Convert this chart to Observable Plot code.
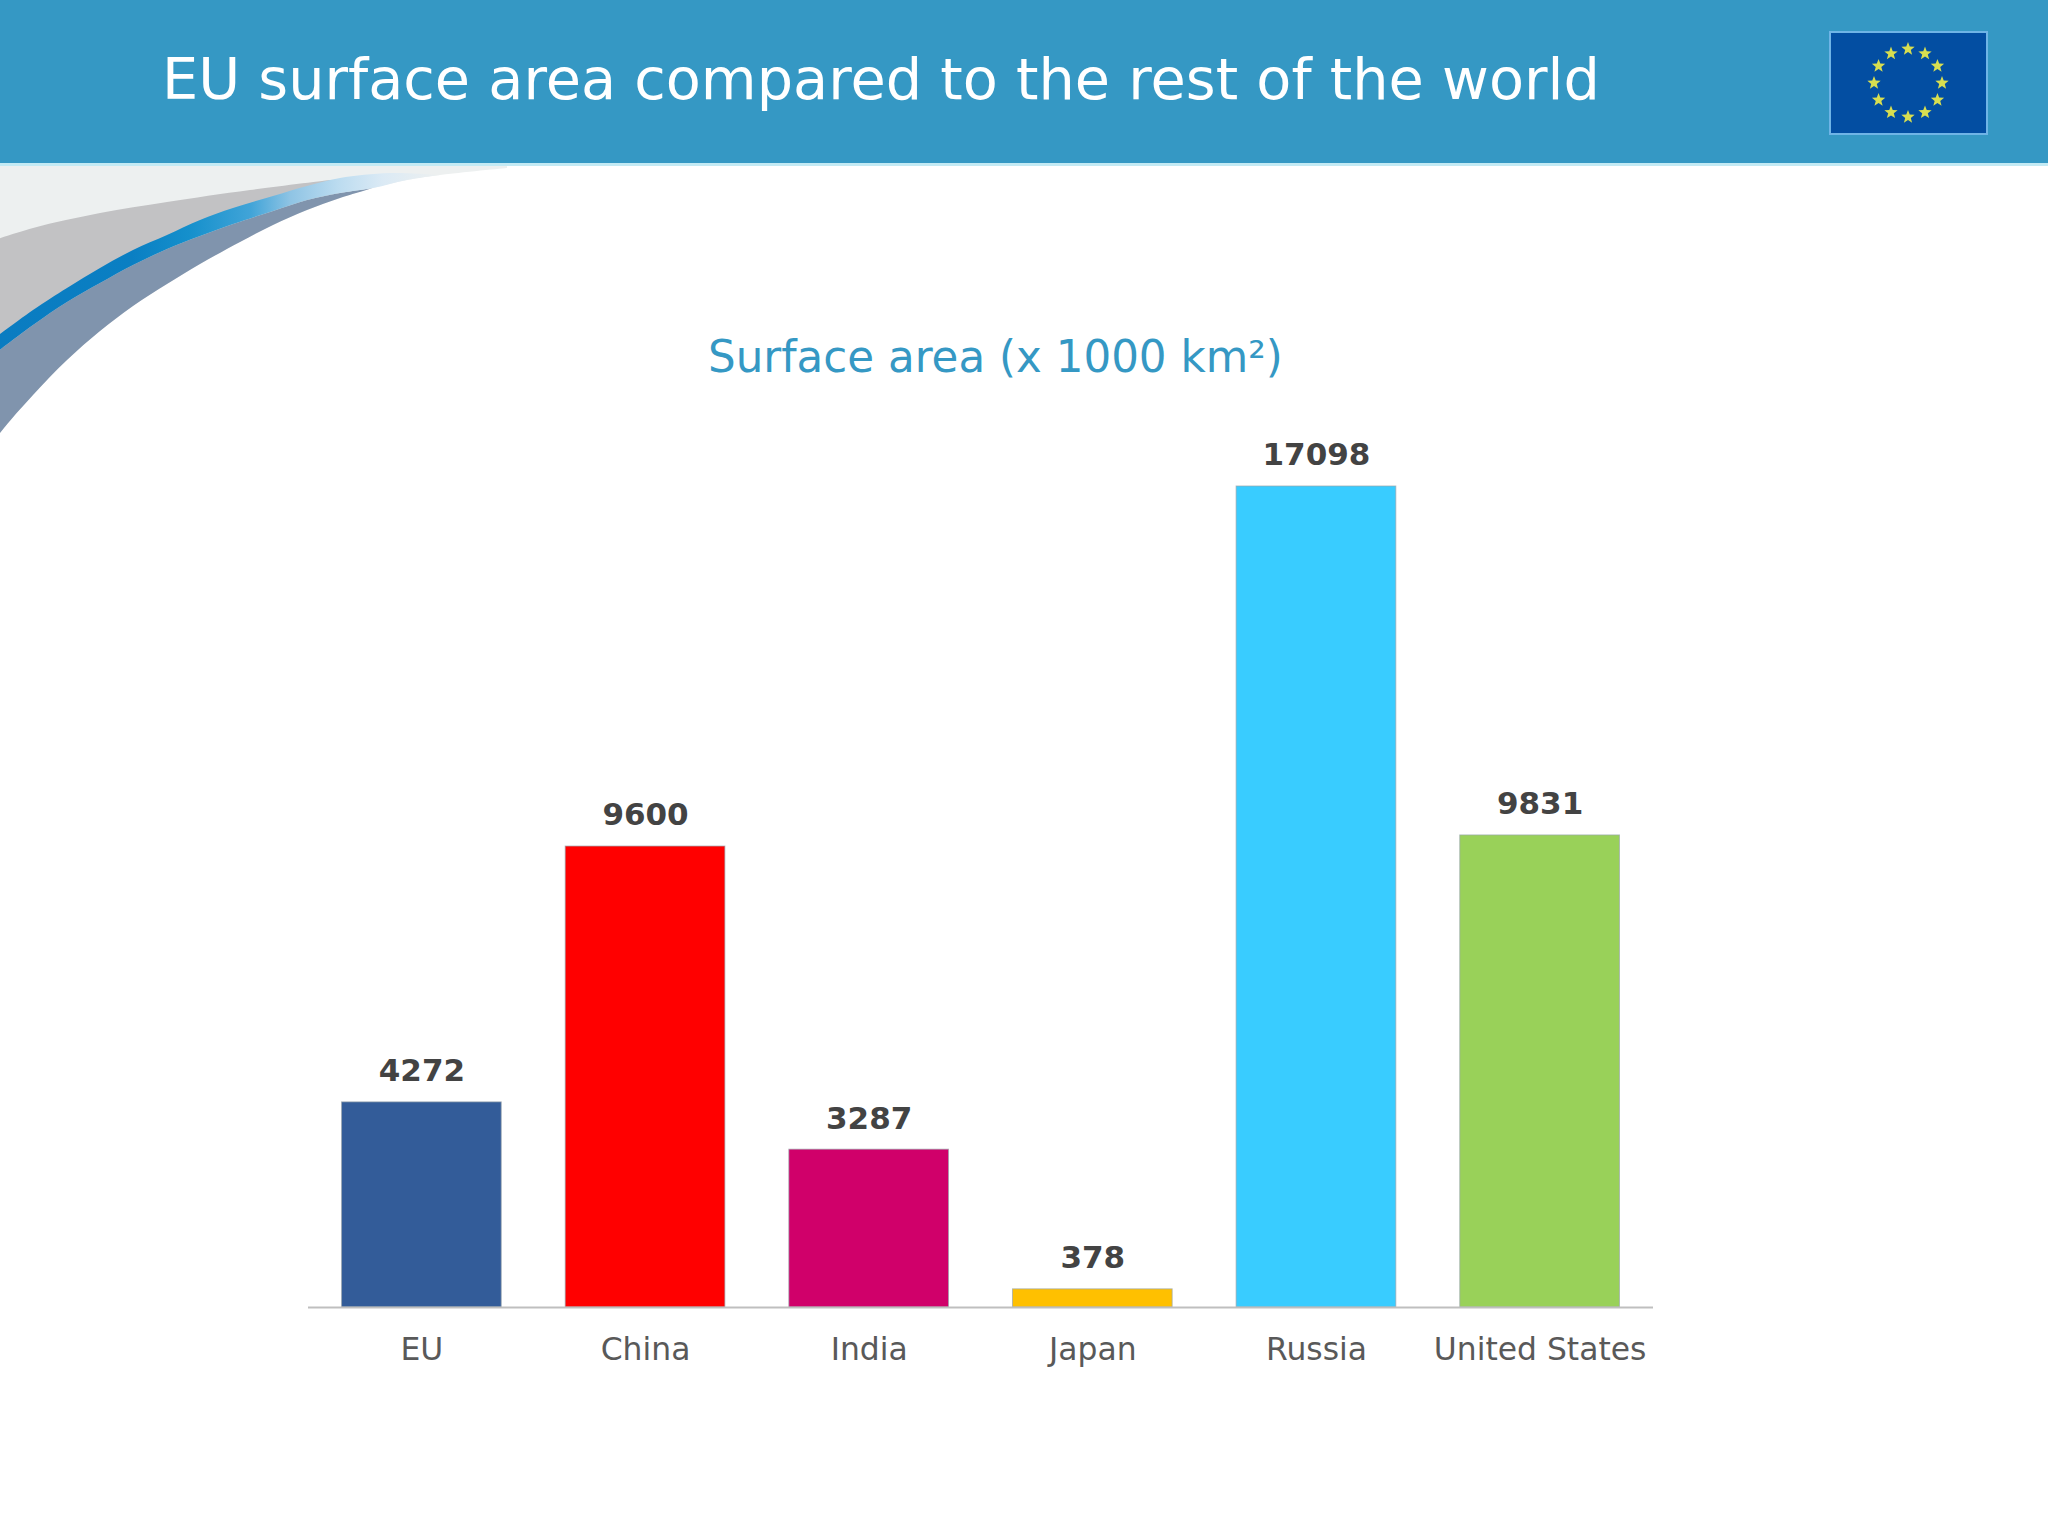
<!DOCTYPE html>
<html>
<head>
<meta charset="utf-8">
<script src="https://cdn.jsdelivr.net/npm/d3@7"></script>
<script src="https://cdn.jsdelivr.net/npm/@observablehq/plot@0.6"></script>
<style>
html,body{margin:0;padding:0;background:#fff;}
#page{position:relative;width:2048px;height:1536px;overflow:hidden;font-family:"DejaVu Sans",sans-serif;background:#fff;}
#header{position:absolute;left:0;top:0;width:2048px;height:163px;background:#3598c4;border-bottom:3px solid #c3eaf4;}
#title{position:absolute;left:162px;top:44px;color:#fff;font-size:57.3px;line-height:72px;white-space:nowrap;}
#sub{position:absolute;left:708px;top:325px;white-space:nowrap;color:#3598c4;font-size:43.6px;line-height:64px;}
#deco,#flag{position:absolute;left:0;top:0;}
#chart{position:absolute;left:0;top:440px;}
</style>
</head>
<body>
<div id="page">
<svg id="deco" width="2048" height="460"></svg>
<div id="header"><div id="title">EU surface area compared to the rest of the world</div></div>
<svg id="flag" width="2048" height="163"></svg>
<div id="sub">Surface area (x 1000 km²)</div>
<div id="chart"></div>
</div>
<script>
const categories = ["EU","China","India","Japan","Russia","United States"];
const areas = [4272,9600,3287,378,17098,9831];
const barColors = ["#335c99","#ff0000","#d0006a","#ffc000","#39ccff","#99d159"];

const rows = categories.map((c,i)=>({category:c,area:areas[i],color:barColors[i]}));

const chart = Plot.plot({
  width:2048,height:1000,
  marginLeft:308,marginRight:395,marginTop:46,marginBottom:133,
  style:{background:"transparent",fontFamily:"DejaVu Sans"},
  x:{domain:categories,paddingInner:0.286,paddingOuter:0.15,round:false,label:null},
  y:{domain:[0,17098],axis:null,label:null},
  marks:[
    Plot.barY(rows,{x:"category",y:"area",fill:"color",stroke:"#9aa5ad",strokeWidth:1,strokeOpacity:0.7}),
    Plot.ruleY([0],{stroke:"#bfbfbf",strokeWidth:2}),
    Plot.axisX({tickSize:0,tickPadding:30,fontSize:31.4,color:"#595959",fontFamily:"DejaVu Sans",label:null}),
    Plot.text(rows,{x:"category",y:"area",text:d=>String(d.area),dy:-31,lineAnchor:"middle",fontSize:31,fontWeight:"bold",fill:"#434343"})
  ]
});
document.getElementById("chart").appendChild(chart);

// background swoosh
const deco = d3.select("#deco");
const defs = deco.append("defs");
const g = defs.append("linearGradient").attr("id","swoosh").attr("gradientUnits","userSpaceOnUse")
  .attr("x1",0).attr("x2",440).attr("y1",0).attr("y2",0);
[[0,"#0a7cc1"],[0.3,"#0a7fc3"],[0.43,"#1590cc"],[0.57,"#41a4d8"],[0.66,"#8fc4e4"],[0.77,"#bcdcf0"],[0.87,"#dbeaf5"],[1,"#edf0f0"]]
  .forEach(([o,c])=>g.append("stop").attr("offset",o).attr("stop-color",c));
const path = d3.line().curve(d3.curveCatmullRom);
const outerA = [[-20,462],[0,433],[33,395],[67,360],[100,331],[133,306],[167,284],[200,264],[240,242],[273,225],[307,210],[340,198],[373,188]];
const outerB = [[373,188],[407,180],[440,175],[507,168]];
const grayTop = [[-20,245],[33,228],[100,213],[167,202],[250,190],[330,180]];
const blueTop = [[-20,349],[33,310],[67,288],[100,268],[133,250],[167,235],[200,220],[233,208],[273,196],[307,186],[340,178],[390,173],[440,175]];
const blueBot = [[-20,365],[33,325],[67,302],[100,283],[133,265],[167,249],[200,236],[233,224],[273,211],[307,200],[340,193],[373,188],[407,180],[440,175]];
const closed = (a,b)=>path(a)+"L"+path(b.slice().reverse()).slice(1)+"Z";
deco.append("path").attr("d",path(outerA.concat(outerB.slice(1)))+"L507,160L-20,160Z").attr("fill","#edf0f0");
deco.append("path").attr("d",closed(grayTop,blueBot.slice(0,11))).attr("fill","#c2c2c4");
deco.append("path").attr("d",closed(blueBot.slice(0,12),outerA)).attr("fill","#8094ad");
deco.append("path").attr("d",closed(blueTop,blueBot)).attr("fill","url(#swoosh)");

// EU flag
const flag = d3.select("#flag");
flag.append("rect").attr("x",1830).attr("y",32).attr("width",157).attr("height",102)
  .attr("fill","#034ea2").attr("stroke","#6fb4e6").attr("stroke-width",2);
const starPath = r=>d3.range(10).map(i=>{
  const a=-Math.PI/2+i*Math.PI/5, q=i%2?r*0.42:r;
  return [q*Math.cos(a),q*Math.sin(a)];
});
d3.range(12).forEach(i=>{
  const a=i*Math.PI/6;
  flag.append("path")
    .attr("d",d3.line()(starPath(7))+"Z")
    .attr("transform",`translate(${1908+34*Math.sin(a)},${83-34*Math.cos(a)})`)
    .attr("fill","#d8de50");
});
</script>
</body>
</html>
